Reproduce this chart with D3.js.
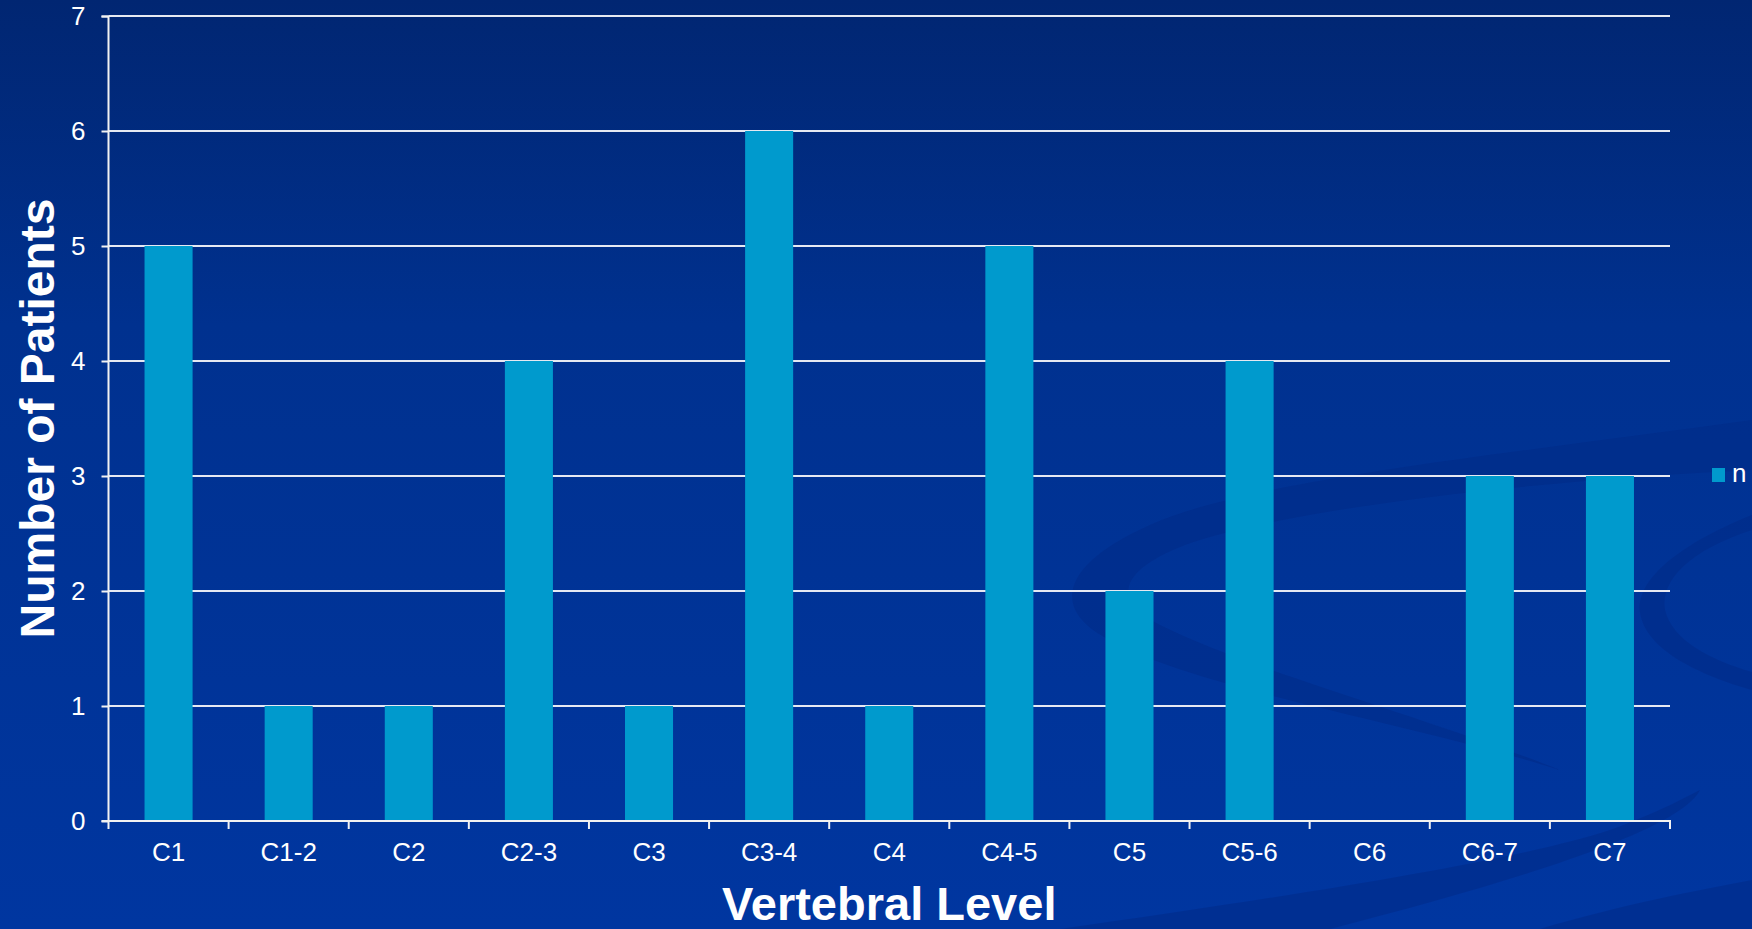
<!DOCTYPE html>
<html>
<head>
<meta charset="utf-8">
<script src="https://cdn.jsdelivr.net/npm/d3@7"></script>
<style>
  html, body { margin: 0; padding: 0; overflow: hidden; }
  body { width: 1752px; height: 929px; }
  svg { display: block; font-family: "Liberation Sans", Arial, sans-serif; }
</style>
</head>
<body>
<div id="chart"></div>
<script>
const levels = ['C1', 'C1-2', 'C2', 'C2-3', 'C3', 'C3-4', 'C4', 'C4-5', 'C5', 'C5-6', 'C6', 'C6-7', 'C7'];
const patients = [5, 1, 1, 4, 1, 6, 1, 5, 2, 4, 0, 3, 3];
const yTicks = [0, 1, 2, 3, 4, 5, 6, 7];
const seriesName = 'n';

const W = 1752, H = 929;
const margin = { top: 16, right: 82, bottom: 108, left: 108.5 };
const width = W - margin.left - margin.right;
const height = H - margin.top - margin.bottom;

const svg = d3.select('#chart').append('svg')
  .attr('width', W)
  .attr('height', H);

// background gradient
const defs = svg.append('defs');
const bg = defs.append('linearGradient')
  .attr('id', 'bg')
  .attr('x1', 0).attr('y1', 0).attr('x2', 0).attr('y2', 1);
bg.append('stop').attr('offset', 0).attr('stop-color', '#012672');
bg.append('stop').attr('offset', 0.35).attr('stop-color', '#00318f');
bg.append('stop').attr('offset', 1).attr('stop-color', '#0036a0');

svg.append('rect').attr('width', W).attr('height', H).attr('fill', 'url(#bg)');

// decorative swooshes of the slide template (kept faint)
const deco = svg.append('g').attr('fill', '#002a86').attr('opacity', 0.5);
deco.append('path')
  .attr('d', 'M1752,420 C1500,455 1250,480 1150,525 C1060,565 1050,610 1110,640 C1200,690 1400,720 1560,770 C1420,715 1250,670 1160,625 C1110,600 1120,570 1185,545 C1300,505 1550,480 1752,470 Z');
deco.append('path')
  .attr('d', 'M1752,530 C1690,550 1660,580 1665,610 C1672,640 1710,660 1752,672 L1752,690 C1700,675 1645,650 1640,612 C1636,575 1690,540 1752,515 Z');
deco.append('path')
  .attr('d', 'M1060,929 C1300,895 1520,860 1610,830 C1660,812 1690,795 1700,790 C1680,830 1520,880 1330,929 Z');
deco.append('path')
  .attr('d', 'M1540,929 C1620,905 1700,890 1752,880 L1752,929 Z');

const g = svg.append('g').attr('transform', `translate(${margin.left},${margin.top})`);

const x = d3.scaleBand()
  .domain(levels)
  .range([0, width])
  .paddingInner(0.6)
  .paddingOuter(0.3);

const y = d3.scaleLinear()
  .domain([0, d3.max(yTicks)])
  .range([height, 0]);

// gridlines
g.append('g')
  .selectAll('line')
  .data(yTicks.filter(d => d > 0))
  .enter().append('line')
    .attr('x1', 0)
    .attr('x2', width)
    .attr('y1', d => y(d))
    .attr('y2', d => y(d))
    .attr('stroke', '#e6e9f2')
    .attr('stroke-width', 2);

// bars
g.append('g')
  .selectAll('rect')
  .data(levels.map((d, i) => ({ level: d, value: patients[i] })))
  .enter().append('rect')
    .attr('x', d => x(d.level))
    .attr('y', d => y(d.value))
    .attr('width', x.bandwidth())
    .attr('height', d => height - y(d.value))
    .attr('fill', '#009acd');

// y axis
const yAxis = g.append('g')
  .call(d3.axisLeft(y).tickValues(yTicks).tickSize(7).tickPadding(16).tickFormat(d3.format('d')));
yAxis.selectAll('line').attr('stroke', '#f2f2f2').attr('stroke-width', 2);
yAxis.select('.domain').attr('stroke', '#f2f2f2').attr('stroke-width', 2).attr('d', `M-7,0.5H0V${height}`);
yAxis.selectAll('text')
  .attr('fill', '#ffffff')
  .attr('font-size', 26)
  .attr('font-family', '"Liberation Sans", Arial, sans-serif');

// x axis: labels centred in bands, ticks on band boundaries
const xAxis = g.append('g')
  .attr('transform', `translate(0,${height})`)
  .call(d3.axisBottom(x).tickSize(0).tickPadding(22));
xAxis.select('.domain').remove();
xAxis.selectAll('text')
  .attr('fill', '#ffffff')
  .attr('font-size', 26)
  .attr('font-family', '"Liberation Sans", Arial, sans-serif');

const bounds = levels.map(d => x(d) - x.step() * 0.3).concat([width]);
const xTicks = g.append('g').attr('transform', `translate(0,${height})`);
xTicks.append('line')
  .attr('x1', -7).attr('x2', width + 1)
  .attr('y1', 0).attr('y2', 0)
  .attr('stroke', '#f2f2f2').attr('stroke-width', 2);
xTicks.selectAll('.bt')
  .data(bounds)
  .enter().append('line')
    .attr('class', 'bt')
    .attr('x1', d => d).attr('x2', d => d)
    .attr('y1', 0).attr('y2', 8)
    .attr('stroke', '#f2f2f2').attr('stroke-width', 2);

// axis titles
svg.append('text')
  .attr('x', margin.left + width / 2)
  .attr('y', 920)
  .attr('text-anchor', 'middle')
  .attr('fill', '#ffffff')
  .attr('font-weight', 'bold')
  .attr('font-size', 47)
  .text('Vertebral Level');

svg.append('text')
  .attr('transform', `translate(54,${margin.top + height / 2}) rotate(-90)`)
  .attr('text-anchor', 'middle')
  .attr('fill', '#ffffff')
  .attr('font-weight', 'bold')
  .attr('font-size', 48)
  .text('Number of Patients');

// legend
const legend = svg.append('g').attr('transform', 'translate(1712,468)');
legend.append('rect')
  .attr('width', 13).attr('height', 14)
  .attr('fill', '#009acd');
legend.append('text')
  .attr('x', 20)
  .attr('y', 14)
  .attr('fill', '#ffffff')
  .attr('font-size', 26)
  .text(seriesName);
</script>
</body>
</html>
